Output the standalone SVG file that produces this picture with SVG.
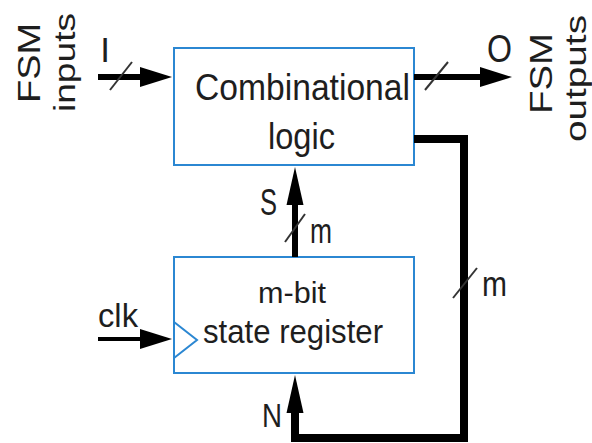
<svg xmlns="http://www.w3.org/2000/svg" width="592" height="443" viewBox="0 0 592 443">
  <style>
    .box { fill: #ffffff; stroke: #2b87d2; stroke-width: 2; }
    .clkmark { fill: none; stroke: #2b87d2; stroke-width: 2; }
    .lbl { font-family: "Liberation Sans", Arial, sans-serif; fill: #1e1e1e; }
    .bus { fill: none; stroke: #000; stroke-linejoin: miter; }
    .slash { stroke: #333; stroke-width: 2; }
  </style>
  <defs>
    <marker id="headH" markerUnits="userSpaceOnUse" markerWidth="32" markerHeight="20" refX="0" refY="10" orient="auto" overflow="visible">
      <path d="M0,0 L32,10 L0,20 z" fill="#000"/>
    </marker>
    <marker id="headV" markerUnits="userSpaceOnUse" markerWidth="38" markerHeight="17" refX="0" refY="8.5" orient="auto" overflow="visible">
      <path d="M0,0 L38,8.5 L0,17 z" fill="#000"/>
    </marker>
  </defs>

  <rect width="592" height="443" fill="#ffffff"/>

  <!-- side labels -->
  <g id="fsm-inputs">
    <text class="lbl" transform="translate(40,103) rotate(-90)" font-size="31" textLength="80" lengthAdjust="spacingAndGlyphs">FSM</text>
    <text class="lbl" transform="translate(75,112) rotate(-90)" font-size="30" textLength="99" lengthAdjust="spacingAndGlyphs">inputs</text>
  </g>
  <g id="fsm-outputs">
    <text class="lbl" transform="translate(552,114) rotate(-90)" font-size="31" textLength="81" lengthAdjust="spacingAndGlyphs">FSM</text>
    <text class="lbl" transform="translate(586,142) rotate(-90)" font-size="30" textLength="127" lengthAdjust="spacingAndGlyphs">outputs</text>
  </g>

  <!-- combinational logic block -->
  <g id="comb-logic">
    <rect class="box" x="174" y="48" width="240" height="117"/>
    <text class="lbl" x="195" y="100" font-size="37.5" textLength="215" lengthAdjust="spacingAndGlyphs">Combinational</text>
    <text class="lbl" x="268" y="149" font-size="37.5" textLength="67" lengthAdjust="spacingAndGlyphs">logic</text>
  </g>

  <!-- state register block -->
  <g id="state-register">
    <rect class="box" x="174" y="257" width="240" height="116"/>
    <polyline class="clkmark" points="174,322 197,340 174,358"/>
    <text class="lbl" x="258" y="303" font-size="30" textLength="68" lengthAdjust="spacingAndGlyphs">m-bit</text>
    <text class="lbl" x="203" y="343" font-size="34" textLength="180" lengthAdjust="spacingAndGlyphs">state register</text>
  </g>

  <!-- connectors -->
  <g id="connectors">
    <!-- I : inputs into logic -->
    <line class="bus" x1="98" y1="77" x2="140" y2="77" stroke-width="6" marker-end="url(#headH)"/>
    <line class="slash" x1="110" y1="90" x2="132" y2="62"/>
    <!-- O : logic outputs -->
    <line class="bus" x1="414" y1="77" x2="480" y2="77" stroke-width="6" marker-end="url(#headH)"/>
    <line class="slash" x1="425" y1="90" x2="448" y2="62"/>
    <!-- S : state back into logic -->
    <line class="bus" x1="295" y1="257" x2="295" y2="205" stroke-width="6" marker-end="url(#headV)"/>
    <line class="slash" x1="285" y1="242" x2="305" y2="214"/>
    <!-- N : next state loop -->
    <path class="bus" d="M414,139 H464 V438 H295 V413" stroke-width="8" marker-end="url(#headV)"/>
    <line class="slash" x1="453" y1="298" x2="477" y2="268"/>
    <!-- clock -->
    <line class="bus" x1="98" y1="339" x2="140" y2="339" stroke-width="4" marker-end="url(#headH)"/>
  </g>

  <!-- signal labels -->
  <g id="signal-labels">
    <text class="lbl" x="105" y="62" font-size="35" text-anchor="middle">I</text>
    <text class="lbl" x="487" y="62" font-size="38" textLength="25" lengthAdjust="spacingAndGlyphs">O</text>
    <text class="lbl" x="260" y="215" font-size="36" textLength="17" lengthAdjust="spacingAndGlyphs">S</text>
    <text class="lbl" x="310" y="243" font-size="35" textLength="22" lengthAdjust="spacingAndGlyphs">m</text>
    <text class="lbl" x="482" y="296" font-size="35" textLength="25" lengthAdjust="spacingAndGlyphs">m</text>
    <text class="lbl" x="98" y="327" font-size="34" textLength="40" lengthAdjust="spacingAndGlyphs">clk</text>
    <text class="lbl" x="262" y="427" font-size="33" textLength="20" lengthAdjust="spacingAndGlyphs">N</text>
  </g>
</svg>
